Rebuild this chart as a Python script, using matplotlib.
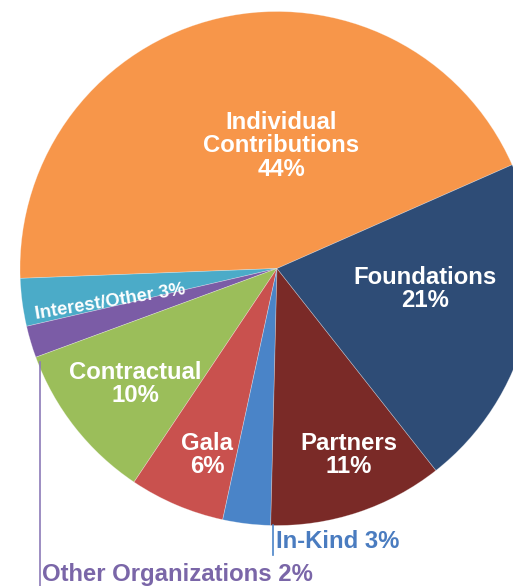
import matplotlib
matplotlib.use("Agg")
import matplotlib.pyplot as plt

categories = ["Individual\nContributions", "Interest/Other", "Other Organizations",
              "Contractual", "Gala", "In-Kind", "Partners", "Foundations"]
shares = [44, 3, 2, 10, 6, 3, 11, 21]
colors = ["#F7964A", "#4BABC8", "#7B5CA6", "#9BBE5A", "#C9514E",
          "#4A84C8", "#7A2A27", "#2E4C76"]

W, H = 513, 586
fig = plt.figure(figsize=(W / 100, H / 100), dpi=100)
ax = fig.add_axes([0, 0, 1, 1])

cx, cy, r = 277, H - 268.5, 257
ax.pie(shares, colors=colors, startangle=23.8, counterclock=True,
       center=(cx, cy), radius=r,
       wedgeprops=dict(linewidth=0.5, edgecolor=(1, 1, 1, 0.35)))
ax.set_xlim(0, W)
ax.set_ylim(0, H)
ax.set_aspect("equal")
ax.axis("off")

font = "Liberation Sans"
FS = 17.2
def Y(y):
    return H - y

def lbl(i):
    return f"{categories[i]}\n{shares[i]}%"

# inside labels (x, y in pixel coords from top)
inside = {0: (281, 146), 7: (425, 289), 6: (349, 455), 4: (207, 455), 3: (135, 384)}
for i, (x, y) in inside.items():
    ax.text(x, Y(y), lbl(i), ha="center", va="center", color="white",
            fontsize=FS, fontweight="bold", family=font, linespacing=1.02)

# rotated label for Interest/Other
ax.text(110, Y(302), f"{categories[1]} {shares[1]}%", ha="center", va="center",
        color="white", fontsize=13.2, fontweight="bold", family=font,
        rotation=9.5, rotation_mode="anchor")

# outside labels with leader lines
ax.plot([273, 273], [Y(525), Y(555)], color=colors[5], lw=1.2)
ax.text(276, Y(542), f"{categories[5]} {shares[5]}%", ha="left", va="center",
        color="#4A7CC0", fontsize=FS, fontweight="bold", family=font)

ax.plot([39.5, 39.5], [Y(362), Y(586)], color="#8C7AB8", lw=1.2)
ax.text(42, Y(574), f"{categories[2]} {shares[2]}%", ha="left", va="center",
        color="#7A66A8", fontsize=FS, fontweight="bold", family=font)

fig.savefig("out.png", dpi=100)
